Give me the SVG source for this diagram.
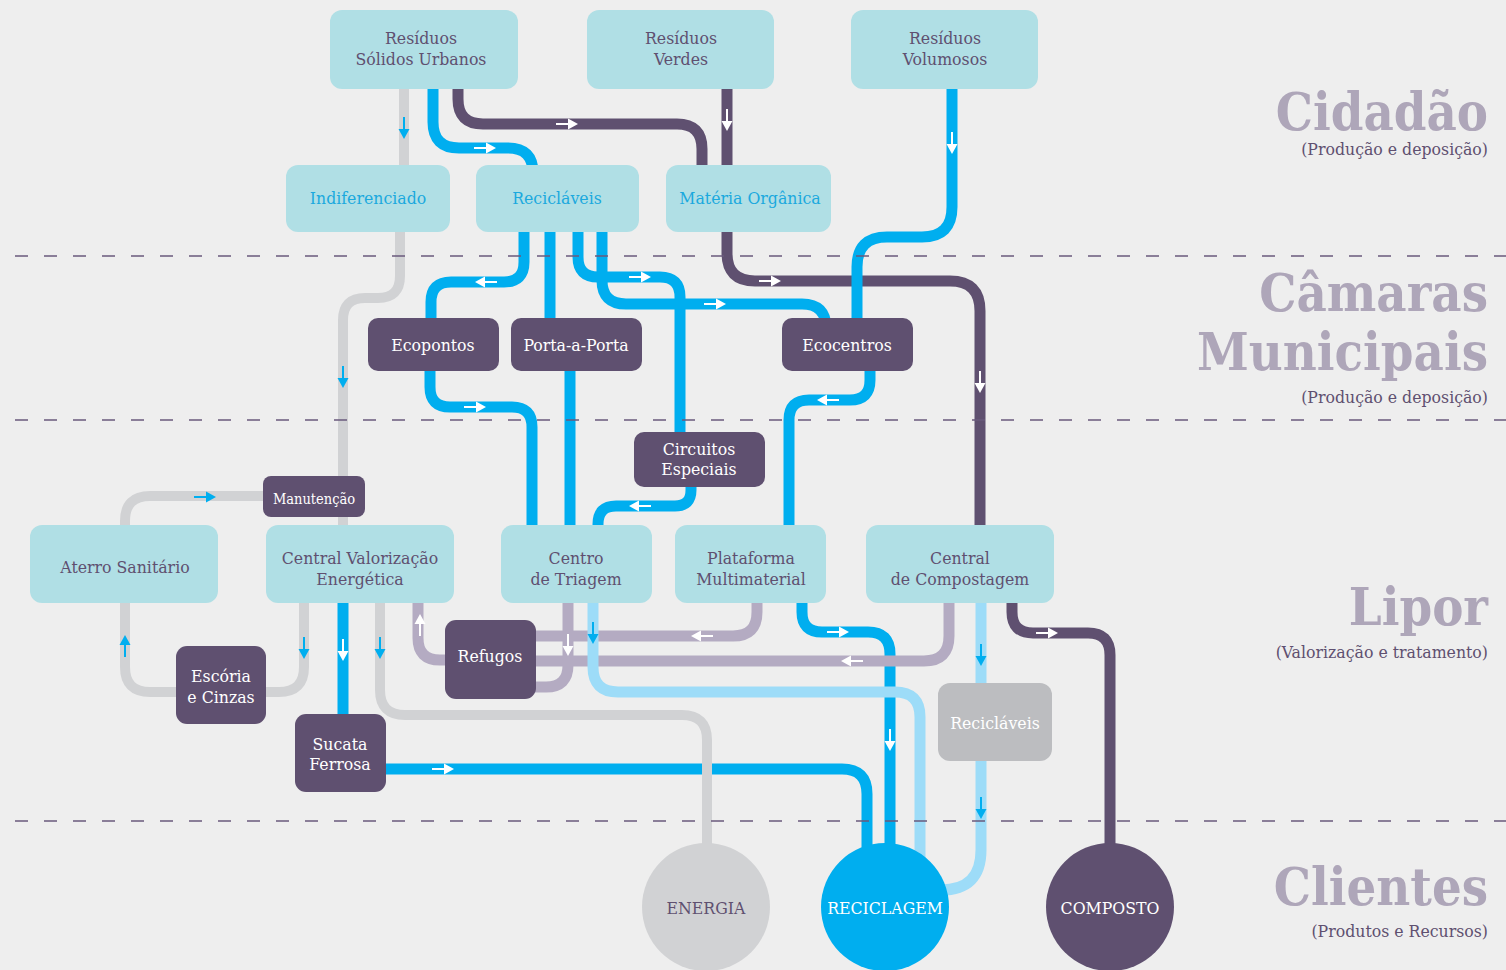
<svg xmlns="http://www.w3.org/2000/svg" xmlns:xlink="http://www.w3.org/1999/xlink" width="1506" height="970" viewBox="0 0 1506 970">
<style>
.ln{fill:none;stroke-width:11}
.g{stroke:#d1d2d4;stroke-width:10}
.b{stroke:#00aeef}
.p{stroke:#5f5070}
.l{stroke:#b4abc2}
.lb{stroke:#9ddcf8}
.dash{stroke:#6a5a7c;stroke-width:1.5;stroke-dasharray:13 16;fill:none}
.lc{fill:#b0dfe5}
.pu{fill:#5f5070}
.gy{fill:#bcbdc0}
text{font-family:"DejaVu Serif Condensed","DejaVu Serif",serif;font-stretch:condensed;text-anchor:middle;font-size:17.5px}
.tp{fill:#5f5070}
.tb{fill:#1ba9de}
.tw{fill:#ffffff}
.hd{font-weight:bold;fill:#aea6b9;text-anchor:end;font-size:52px}
.sb{fill:#5f5070;text-anchor:end;font-size:17.5px}
</style>
<defs>
<g id="aw"><path d="M-11,0H2" stroke="#ffffff" stroke-width="2"/><path d="M1,-5.5L11,0L1,5.5Z" fill="#ffffff"/></g>
<g id="ab"><path d="M-11,0H2" stroke="#00aeef" stroke-width="2"/><path d="M1,-5.5L11,0L1,5.5Z" fill="#00aeef"/></g>
</defs>
<rect width="1506" height="970" fill="#eeeeee"/>

<g id="connectors">
<path class="ln g" d="M404,89V165"/>
<path class="ln g" d="M400,232V276Q400,298 378,298H365Q343,298 343,320V525"/>
<path class="ln g" d="M125,527V521Q125,496 150,496H265"/>
<path class="ln g" d="M304,603V667Q304,692 279,692H150Q125,692 125,667V603"/>
<path class="ln b" d="M343,603V714"/>
<path class="ln b" d="M386,769H842Q867,769 867,794V880"/>
<path class="ln b" d="M802,603V612Q802,632 822,632H868Q890,632 890,654V860"/>
<path class="ln p" d="M727,232V253Q727,281 755,281H950Q980,281 980,311V525"/>
<path class="ln b" d="M433,89V122Q433,148 459,148H508Q533,148 533,173"/>
<path class="ln b" d="M524,232V262Q524,282 504,282H451Q431,282 431,302V318"/>
<path class="ln b" d="M550,232V318"/>
<path class="ln b" d="M578,232V257Q578,277 598,277H660Q680,277 680,297V432"/>
<path class="ln b" d="M602,232V280Q602,304 626,304H802Q826,304 826,328"/>
<path class="ln b" d="M952,89V207Q952,237 922,237H887Q857,237 857,267V318"/>
<path class="ln b" d="M870,371V380Q870,400 850,400H809Q789,400 789,420V525"/>
<path class="ln b" d="M430,371V387Q430,407 450,407H512Q532,407 532,427V525"/>
<path class="ln b" d="M570,371V525"/>
<path class="ln b" d="M691,487V490Q691,506 675,506H616Q598,506 598,524V527"/>
<path class="ln g" d="M380,603V690Q380,715 405,715H682Q707,715 707,740V850"/>
<path class="ln l" d="M445,660H440Q418,660 418,638V603"/>
<path class="ln l" d="M568,603V665Q568,687 546,687H530"/>
<path class="ln l" d="M757,603V612Q757,636 733,636H530"/>
<path class="ln l" d="M949,603V636Q949,661 924,661H530"/>
<path class="ln lb" d="M593,603V667Q593,692 618,692H895Q920,692 920,717V860"/>
<path class="ln lb" d="M981,603V850Q981,890 941,890H930"/>
<path class="ln p" d="M458,89V99Q458,124 483,124H677Q702,124 702,149V165"/>
<path class="ln p" d="M727,89V165"/>
<path class="ln p" d="M1012,603V612Q1012,633 1033,633H1088Q1110,633 1110,655V850"/>
<use href="#ab" transform="translate(404,128) rotate(90)"/>
<use href="#ab" transform="translate(343,377) rotate(90)"/>
<use href="#ab" transform="translate(205,497)"/>
<use href="#ab" transform="translate(304,648) rotate(90)"/>
<use href="#ab" transform="translate(125,646) rotate(-90)"/>
<use href="#aw" transform="translate(343,650) rotate(90)"/>
<use href="#ab" transform="translate(380,648) rotate(90)"/>
<use href="#aw" transform="translate(420,625) rotate(-90)"/>
<use href="#aw" transform="translate(568,645) rotate(90)"/>
<use href="#ab" transform="translate(593,633) rotate(90)"/>
<use href="#aw" transform="translate(702,636) rotate(180)"/>
<use href="#aw" transform="translate(852,661) rotate(180)"/>
<use href="#aw" transform="translate(838,632)"/>
<use href="#aw" transform="translate(890,740) rotate(90)"/>
<use href="#aw" transform="translate(1047,633)"/>
<use href="#ab" transform="translate(981,655) rotate(90)"/>
<use href="#ab" transform="translate(981,808) rotate(90)"/>
<use href="#aw" transform="translate(443,769)"/>
<use href="#aw" transform="translate(567,124)"/>
<use href="#aw" transform="translate(485,148)"/>
<use href="#aw" transform="translate(727,120) rotate(90)"/>
<use href="#aw" transform="translate(952,143) rotate(90)"/>
<use href="#aw" transform="translate(770,281)"/>
<use href="#aw" transform="translate(980,382) rotate(90)"/>
<use href="#aw" transform="translate(486,282) rotate(180)"/>
<use href="#aw" transform="translate(640,277)"/>
<use href="#aw" transform="translate(715,304)"/>
<use href="#aw" transform="translate(828,400) rotate(180)"/>
<use href="#aw" transform="translate(475,407)"/>
<use href="#aw" transform="translate(640,506) rotate(180)"/>
</g>

<g id="dividers">
<path class="dash" d="M15,256H1506"/>
<path class="dash" d="M15,420H1506"/>
<path class="dash" d="M15,821H1506"/>
</g>

<g id="n-rsu"><rect class="lc" x="330" y="10" width="188" height="79" rx="12"/><text class="tp" x="421" y="44">Resíduos</text><text class="tp" x="421" y="65">Sólidos Urbanos</text></g>
<g id="n-verdes"><rect class="lc" x="587" y="10" width="187" height="79" rx="12"/><text class="tp" x="681" y="44">Resíduos</text><text class="tp" x="681" y="65">Verdes</text></g>
<g id="n-volumosos"><rect class="lc" x="851" y="10" width="187" height="79" rx="12"/><text class="tp" x="945" y="44">Resíduos</text><text class="tp" x="945" y="65">Volumosos</text></g>
<g id="n-indif"><rect class="lc" x="286" y="165" width="164" height="67" rx="12"/><text class="tb" x="368" y="204">Indiferenciado</text></g>
<g id="n-recic"><rect class="lc" x="476" y="165" width="163" height="67" rx="12"/><text class="tb" x="557" y="204">Recicláveis</text></g>
<g id="n-materia"><rect class="lc" x="666" y="165" width="165" height="67" rx="12"/><text class="tb" x="750" y="204">Matéria Orgânica</text></g>
<g id="n-ecopontos"><rect class="pu" x="368" y="318" width="131" height="53" rx="10"/><text class="tw" x="433" y="351">Ecopontos</text></g>
<g id="n-porta"><rect class="pu" x="511" y="318" width="131" height="53" rx="10"/><text class="tw" x="576" y="351">Porta-a-Porta</text></g>
<g id="n-ecocentros"><rect class="pu" x="782" y="318" width="131" height="53" rx="10"/><text class="tw" x="847" y="351">Ecocentros</text></g>
<g id="n-circuitos"><rect class="pu" x="634" y="432" width="131" height="55" rx="10"/><text class="tw" x="699" y="455">Circuitos</text><text class="tw" x="699" y="475">Especiais</text></g>
<g id="n-manut"><rect class="pu" x="263" y="476" width="102" height="41" rx="8"/><text class="tw" x="314" y="504" style="font-size:14.5px">Manutenção</text></g>
<g id="n-aterro"><rect class="lc" x="30" y="525" width="188" height="78" rx="12"/><text class="tp" x="125" y="573">Aterro Sanitário</text></g>
<g id="n-cve"><rect class="lc" x="266" y="525" width="188" height="78" rx="12"/><text class="tp" x="360" y="564">Central Valorização</text><text class="tp" x="360" y="585">Energética</text></g>
<g id="n-triagem"><rect class="lc" x="501" y="525" width="151" height="78" rx="12"/><text class="tp" x="576" y="564">Centro</text><text class="tp" x="576" y="585">de Triagem</text></g>
<g id="n-plataforma"><rect class="lc" x="675" y="525" width="151" height="78" rx="12"/><text class="tp" x="751" y="564">Plataforma</text><text class="tp" x="751" y="585">Multimaterial</text></g>
<g id="n-compostagem"><rect class="lc" x="866" y="525" width="188" height="78" rx="12"/><text class="tp" x="960" y="564">Central</text><text class="tp" x="960" y="585">de Compostagem</text></g>
<g id="n-escoria"><rect class="pu" x="176" y="646" width="90" height="78" rx="11"/><text class="tw" x="221" y="682">Escória</text><text class="tw" x="221" y="703">e Cinzas</text></g>
<g id="n-refugos"><rect class="pu" x="445" y="620" width="91" height="79" rx="11"/><text class="tw" x="490" y="662">Refugos</text></g>
<g id="n-sucata"><rect class="pu" x="295" y="714" width="91" height="78" rx="11"/><text class="tw" x="340" y="750">Sucata</text><text class="tw" x="340" y="770">Ferrosa</text></g>
<g id="n-recic2"><rect class="gy" x="938" y="683" width="114" height="78" rx="12"/><text class="tw" x="995" y="729">Recicláveis</text></g>
<g id="n-energia"><circle cx="706" cy="907" r="64" fill="#d1d2d4"/><text class="tp" x="706" y="914">ENERGIA</text></g>
<g id="n-reciclagem"><circle cx="885" cy="907" r="64" fill="#00aeef"/><text class="tw" x="885" y="914">RECICLAGEM</text></g>
<g id="n-composto"><circle cx="1110" cy="907" r="64" fill="#5f5070"/><text class="tw" x="1110" y="914">COMPOSTO</text></g>

<g id="headers">
<text class="hd" x="1488" y="130">Cidadão</text>
<text class="sb" x="1488" y="155">(Produção e deposição)</text>
<text class="hd" x="1488" y="311">Câmaras</text>
<text class="hd" x="1488" y="370">Municipais</text>
<text class="sb" x="1488" y="403">(Produção e deposição)</text>
<text class="hd" x="1488" y="625">Lipor</text>
<text class="sb" x="1488" y="658">(Valorização e tratamento)</text>
<text class="hd" x="1488" y="905">Clientes</text>
<text class="sb" x="1488" y="937">(Produtos e Recursos)</text>
</g>
</svg>
